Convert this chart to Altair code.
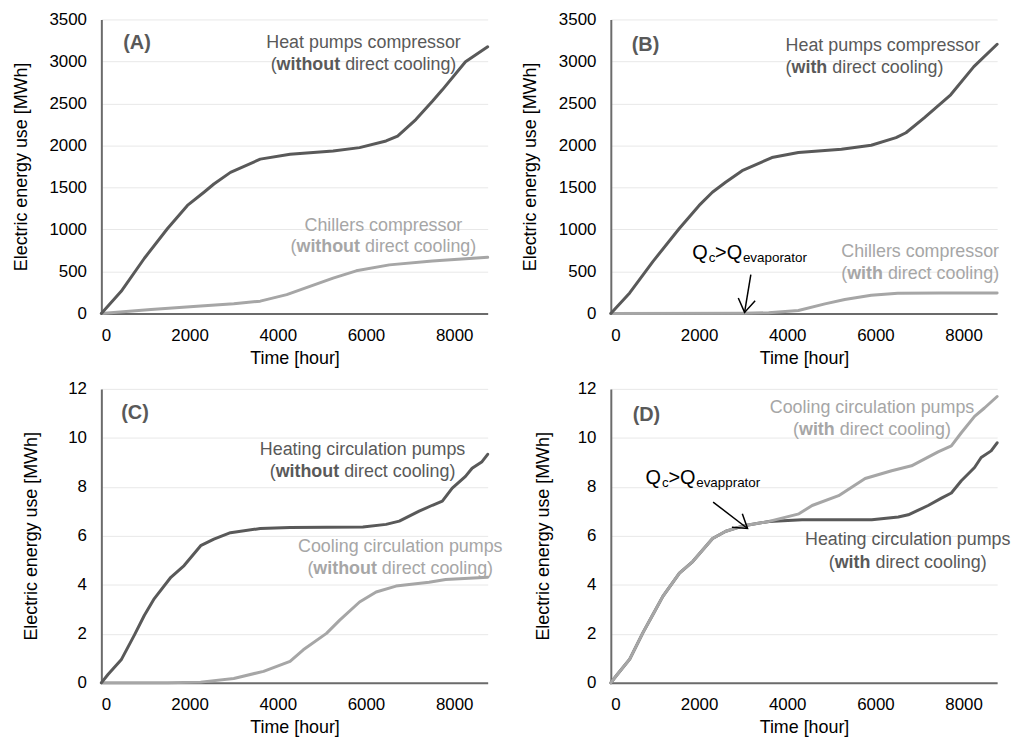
import altair as alt
import pandas as pd

FONT = "Liberation Sans, Arial, Helvetica, sans-serif"
DARK = "#595959"
LIGHT = "#a6a6a6"
X_MAX = 8760
X_TICKS = [0, 2000, 4000, 6000, 8000]

# ---------------- data ----------------
# Panel A
a_x_heat = [0, 450, 976, 1501, 1952, 2327, 2552, 2928, 3603, 4279, 5255, 5855, 6456, 6718, 7131, 7506, 7732, 8257, 8760]
a_y_heat = [0, 263, 657, 1011, 1286, 1443, 1541, 1679, 1837, 1895, 1935, 1974, 2053, 2112, 2308, 2525, 2662, 2997, 3174]
a_x_chill = [0, 1126, 2252, 3003, 3603, 4204, 4729, 5255, 5780, 6531, 7506, 8760]
a_y_chill = [0, 47, 87, 114, 146, 224, 322, 421, 507, 578, 625, 668]

# Panel B
b_x_heat = [0, 428, 953, 1553, 2003, 2303, 2603, 2978, 3653, 4254, 5230, 5905, 6468, 6693, 7106, 7707, 8232, 8760]
b_y_heat = [0, 244, 617, 1011, 1286, 1443, 1561, 1699, 1856, 1915, 1955, 2002, 2093, 2151, 2328, 2603, 2938, 3205]
b_x_chill = [0, 3000, 3580, 4254, 4855, 5305, 5905, 6506, 7482, 8760]
b_y_chill = [0, 2, 8, 35, 114, 165, 216, 240, 244, 244]

# Panel C
c_x_heat = [0, 150, 450, 751, 976, 1201, 1576, 1877, 2252, 2552, 2928, 3603, 4279, 5930, 6456, 6756, 7206, 7506, 7732, 7957, 8257, 8407, 8632, 8760]
c_y_heat = [0, 0.34, 0.94, 1.96, 2.76, 3.44, 4.31, 4.79, 5.60, 5.87, 6.13, 6.30, 6.34, 6.36, 6.47, 6.60, 7.01, 7.25, 7.42, 7.95, 8.43, 8.76, 9.03, 9.33]
c_x_cool = [0, 1500, 2252, 3003, 3678, 4279, 4579, 5105, 5405, 5855, 6231, 6681, 7431, 7807, 8760]
c_y_cool = [0, 0.0, 0.03, 0.18, 0.47, 0.88, 1.35, 2.02, 2.56, 3.30, 3.71, 3.95, 4.11, 4.22, 4.31]

# Panel D
d_x_heat = [0, 128, 429, 729, 955, 1180, 1556, 1857, 2308, 2608, 2985, 3586, 4337, 5918, 6519, 6745, 7196, 7497, 7722, 7948, 8248, 8398, 8624, 8760]
d_y_heat = [0, 0.30, 0.97, 2.05, 2.79, 3.53, 4.48, 4.95, 5.89, 6.19, 6.40, 6.59, 6.66, 6.66, 6.77, 6.86, 7.24, 7.54, 7.75, 8.25, 8.79, 9.20, 9.47, 9.80]
d_x_cool = [0, 128, 429, 729, 955, 1180, 1556, 1857, 2308, 2608, 2985, 3586, 4265, 4565, 5166, 5767, 6368, 6819, 7421, 7722, 7948, 8248, 8473, 8760]
d_y_cool = [0, 0.30, 0.97, 2.05, 2.79, 3.53, 4.48, 4.95, 5.89, 6.19, 6.40, 6.59, 6.90, 7.24, 7.64, 8.34, 8.66, 8.86, 9.43, 9.67, 10.21, 10.88, 11.22, 11.69]

# panel letters: text, x, y
letters = {
    "A": ("(A)", 495, 3216),
    "B": ("(B)", 473, 3192),
    "C": ("(C)", 450, 11.03),
    "D": ("(D)", 495, 10.95),
}

# two-line series labels: line1, bold word, x, y1, y2, colour, alignment
series_labels = {
    "A": [("Heat pumps compressor", "without", 5945, 3216, 2956, DARK, "center"),
          ("Chillers compressor", "without", 6396, 1040, 792, LIGHT, "center")],
    "B": [("Heat pumps compressor", "with", 3963, 3181, 2921, DARK, "left"),
          ("Chillers compressor", "with", 5225, 733, 473, LIGHT, "left")],
    "C": [("Heating circulation pumps", "without", 5923, 9.49, 8.61, DARK, "center"),
          ("Cooling circulation pumps", "without", 6778, 5.54, 4.65, LIGHT, "center")],
    "D": [("Cooling circulation pumps", "with", 5923, 11.23, 10.34, LIGHT, "center"),
          ("Heating circulation pumps", "with", 6733, 5.82, 4.89, DARK, "center")],
}

# Q annotations: subscript word, text x, text baseline y, arrow tail (x, y), arrow tip (x, y), head angle
q_notes = {
    "B": ("evaporator", 1847, 650, (3175, 461), (3033, 12), 9.4),
    "D": ("evapprator", 788, 8.12, (2320, 7.38), (3100, 6.30), 307.6),
}

Y_TITLE = "Electric energy use [MWh]"
X_TITLE = "Time [hour]"

BOLD_EM = {"without": 3.555, "with": 2.0}


def encs(ymax, ystep, title_x):
    x_enc = alt.X("x:Q", scale=alt.Scale(domain=[0, X_MAX], nice=False, zero=False),
                  axis=alt.Axis(values=X_TICKS, title=X_TITLE, grid=False, format="d",
                                titleY=45, titleBaseline="middle"))
    y_vals = [v for v in range(0, ymax + 1, ystep)]
    y_enc = alt.Y("y:Q", scale=alt.Scale(domain=[0, ymax], nice=False),
                  axis=alt.Axis(values=y_vals, title=Y_TITLE, grid=True, format="d",
                                titleX=title_x, titleBaseline="middle"))
    return x_enc, y_enc


def line_layer(xs, ys, color, x_enc, y_enc):
    df = pd.DataFrame({"x": xs, "y": ys})
    return alt.Chart(df).mark_line(color=color, strokeWidth=3, strokeJoin="round",
                                   strokeCap="round").encode(x=x_enc, y=y_enc)


def text_layer(text, x, y, x_enc, y_enc, size=18, weight="normal", color=DARK,
               align="left", dx=0, dy=0, baseline="middle"):
    df = pd.DataFrame({"x": [x], "y": [y], "t": [text]})
    return alt.Chart(df).mark_text(font=FONT, fontSize=size, fontWeight=weight, color=color,
                                   align=align, baseline=baseline, dx=dx, dy=dy).encode(
        x=x_enc, y=y_enc, text="t:N")


def two_line_label(line1, bold, x, y1, y2, color, mode, x_enc, y_enc):
    f = 18
    paren = 0.333 * f
    B = BOLD_EM[bold] * f
    space = 0.278 * f
    R = 6.224 * f
    W = paren + B + space + R
    start = -W / 2 if mode == "center" else 0
    out = [text_layer(line1, x, y1, x_enc, y_enc, color=color, align=mode)]
    out.append(text_layer("(", x, y2, x_enc, y_enc, color=color, dx=start))
    out.append(text_layer(bold, x, y2, x_enc, y_enc, color=color, weight="bold", dx=start + paren))
    out.append(text_layer("direct cooling)", x, y2, x_enc, y_enc, color=color,
                          dx=start + paren + B + space))
    return out


def q_note(sub, tx, ty, tail, tip, angle, x_enc, y_enc):
    out = []
    pieces = [("Q", 20, 0, 0), ("c", 13.5, 16.5, 3), (">Q", 20, 23, 0), (sub, 13.5, 51, 3)]
    for t, s, dx, dy in pieces:
        out.append(text_layer(t, tx, ty, x_enc, y_enc, size=s, color="black", dx=dx, dy=dy,
                              baseline="alphabetic"))
    rdf = pd.DataFrame({"x": [tail[0]], "y": [tail[1]], "x2": [tip[0]], "y2": [tip[1]]})
    out.append(alt.Chart(rdf).mark_rule(color="black", strokeWidth=1.5).encode(
        x=x_enc, y=y_enc, x2="x2:Q", y2="y2:Q"))
    hdf = pd.DataFrame({"x": [tip[0]], "y": [tip[1]]})
    out.append(alt.Chart(hdf).mark_point(shape="M -0.65 -1 L 0 0 L 0.65 -1", filled=False,
                                         color="black", strokeWidth=1.5, size=700, opacity=1,
                                         angle=angle).encode(x=x_enc, y=y_enc))
    return out


def panel(key, series, ymax, ystep, title_x):
    x_enc, y_enc = encs(ymax, ystep, title_x)
    layers = []
    for xs, ys, color in series:
        layers.append(line_layer(xs, ys, color, x_enc, y_enc))
    t, lx, ly = letters[key]
    layers.append(text_layer(t, lx, ly, x_enc, y_enc, size=20, weight="bold", color=DARK))
    for lab in series_labels[key]:
        layers.extend(two_line_label(*lab, x_enc, y_enc))
    if key in q_notes:
        layers.extend(q_note(*q_notes[key], x_enc, y_enc))
    return alt.layer(*layers).properties(width=389, height=296)


pA = panel("A", [(a_x_chill, a_y_chill, LIGHT), (a_x_heat, a_y_heat, DARK)], 3500, 500, -80)
pB = panel("B", [(b_x_chill, b_y_chill, LIGHT), (b_x_heat, b_y_heat, DARK)], 3500, 500, -81)
pC = panel("C", [(c_x_cool, c_y_cool, LIGHT), (c_x_heat, c_y_heat, DARK)], 12, 2, -70)
pD = panel("D", [(d_x_heat, d_y_heat, DARK), (d_x_cool, d_y_cool, LIGHT)], 12, 2, -68)

chart = alt.concat(pA, pB, pC, pD, columns=2, spacing={"row": 76, "column": 124},
                   bounds="flush").properties(
    padding={"left": 5, "top": 0, "right": 5, "bottom": 0}
).configure_view(stroke=None).configure_axis(
    labelFont=FONT, titleFont=FONT, labelFontSize=17, titleFontSize=18,
    titleFontWeight="normal", labelColor="#000000", titleColor="#000000",
    domainColor="#6b6b6b", domainWidth=2, ticks=False, tickSize=0,
    gridColor="#e8e8e8", gridWidth=1, labelPadding=15
).configure_axisX(labelPadding=14)

chart.save("out.html", embed_options={"renderer": "svg", "actions": False})
